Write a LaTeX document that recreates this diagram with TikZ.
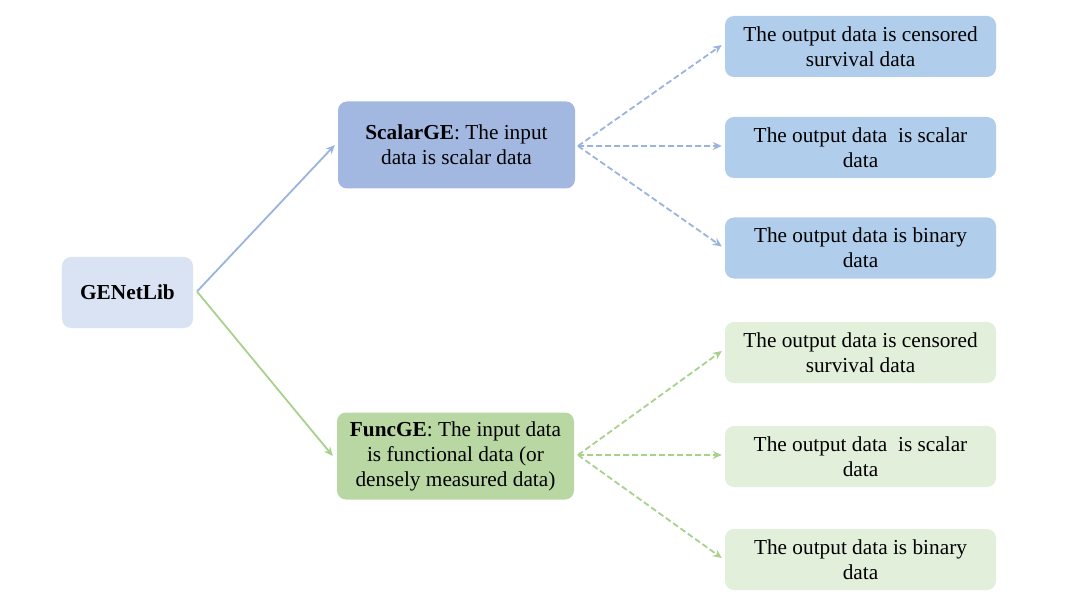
\documentclass[tikz,border=0pt]{standalone}
\usepackage{fontspec}
\setmainfont{Liberation Serif}
\usetikzlibrary{arrows.meta}
\definecolor{rootfill}{HTML}{DAE3F3}
\definecolor{scalarfill}{HTML}{A2B8E1}
\definecolor{bluefill}{HTML}{B0CDEB}
\definecolor{funcfill}{HTML}{B8D7A3}
\definecolor{greenfill}{HTML}{E2EFDA}
\definecolor{bluearrow}{HTML}{9BB4DE}
\definecolor{greenarrow}{HTML}{A9D18E}
\tikzset{
  box/.style={rounded corners=9bp, align=center, inner sep=0pt,
    font=\fontsize{21.3bp}{25bp}\selectfont},
  rootbox/.style={box, fill=rootfill, minimum width=131bp, minimum height=71bp},
  midbox/.style={box, minimum width=237bp, minimum height=87bp},
  outbox/.style={box, minimum width=271bp, minimum height=61bp},
  conn/.style={line width=1.8bp, -{Stealth[length=9bp,width=8bp]}},
  dconn/.style={conn, dash pattern=on 6bp off 3bp},
}
\begin{document}
\begin{tikzpicture}[x=1bp,y=-1bp]
\useasboundingbox (0,0) rectangle (1066,607);
\node[rootbox] (root) at (127.5,292.5) {\textbf{GENetLib}};
\node[midbox, fill=scalarfill] (scalar) at (456.5,145) {\textbf{ScalarGE}: The input\\data is scalar data};
\node[midbox, fill=funcfill] (func) at (455.5,456) {\textbf{FuncGE}: The input data\\is functional data (or\\densely measured data)};
\node[outbox, fill=bluefill] (s1) at (860.5,46.5) {The output data is censored\\survival data};
\node[outbox, fill=bluefill] (s2) at (860.5,147.5) {The output data\ \ is scalar\\data};
\node[outbox, fill=bluefill] (s3) at (860.5,248) {The output data is binary\\data};
\node[outbox, fill=greenfill] (f1) at (860.5,352.5) {The output data is censored\\survival data};
\node[outbox, fill=greenfill] (f2) at (860.5,456.5) {The output data\ \ is scalar\\data};
\node[outbox, fill=greenfill] (f3) at (860.5,559.5) {The output data is binary\\data};
\coordinate (rootout) at (197,291.5);
\coordinate (scalarout) at (578,146);
\coordinate (funcout) at (578,455);
\draw[conn, bluearrow] (rootout) -- ([xshift=-3bp]scalar.west);
\draw[conn, greenarrow] (rootout) -- ([xshift=-4bp]func.west);
\draw[dconn, bluearrow] (scalarout) -- ([xshift=-3bp,yshift=1.5bp]s1.west);
\draw[dconn, bluearrow] (scalarout) -- ([xshift=-3bp,yshift=1.5bp]s2.west);
\draw[dconn, bluearrow] (scalarout) -- ([xshift=-3bp,yshift=1.5bp]s3.west);
\draw[dconn, greenarrow] (funcout) -- ([xshift=-3bp,yshift=1.5bp]f1.west);
\draw[dconn, greenarrow] (funcout) -- ([xshift=-3bp,yshift=1.5bp]f2.west);
\draw[dconn, greenarrow] (funcout) -- ([xshift=-3bp,yshift=1.5bp]f3.west);
\end{tikzpicture}
\end{document}
